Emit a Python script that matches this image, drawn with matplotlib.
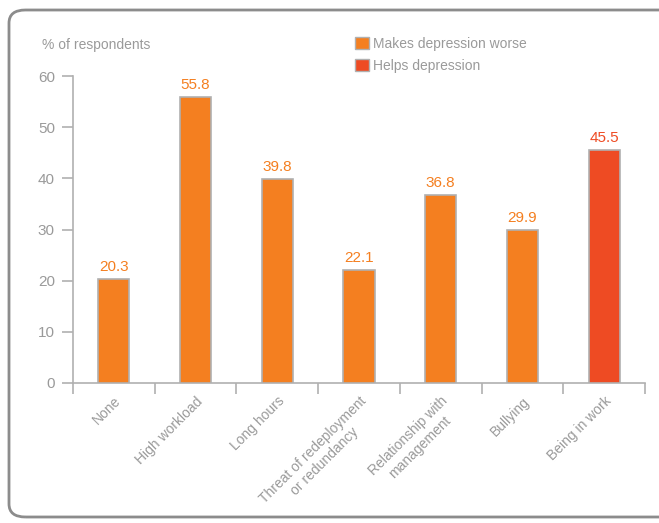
"""Work factors and depression - bar chart."""

import numpy as np
import matplotlib.pyplot as plt
from matplotlib.patches import FancyBboxPatch, Patch

plt.rcParams['font.family'] = ['Liberation Sans', 'DejaVu Sans']

categories = ['None', 'High workload', 'Long hours',
              'Threat of redeployment\nor redundancy',
              'Relationship with\nmanagement', 'Bullying', 'Being in work']
values = [20.3, 55.8, 39.8, 22.1, 36.8, 29.9, 45.5]
groups = ['worse', 'worse', 'worse', 'worse', 'worse', 'worse', 'helps']
yticks = [0, 10, 20, 30, 40, 50, 60]

ORANGE = '#f47f20'
RED = '#ee4b23'
GREY = '#9a9a9a'
colors = {'worse': ORANGE, 'helps': RED}

fig = plt.figure(figsize=(6.59, 5.23), dpi=100)

# rounded frame, cut off on the right like the original
frame = FancyBboxPatch((9 / 659, 6 / 523), 1.1, 1 - 16 / 523,
                       boxstyle='round,pad=0,rounding_size=0.025',
                       transform=fig.transFigure, fill=False,
                       edgecolor='#8c8c8c', linewidth=2.0, clip_on=False)
fig.patches.append(frame)

ax = fig.add_axes([73 / 659, 1 - 383 / 523, 572 / 659, 307 / 523])
x = np.arange(len(categories))
bar_colors = [colors[g] for g in groups]
ax.bar(x, values, width=0.38, color=bar_colors, edgecolor='#b0b0b0',
       linewidth=1.2, zorder=3)

for xi, v, c in zip(x, values, bar_colors):
    ax.text(xi, v + 1.0, f'{v:.1f}', ha='center', va='bottom',
            color=c, fontsize=11)

ax.set_xlim(-0.5, len(categories) - 0.5)
ax.set_ylim(0, 60)
ax.set_yticks(yticks)
ax.set_yticklabels([str(t) for t in yticks], color=GREY, fontsize=11)

ax.set_xticks(x)
ax.set_xticklabels(categories, rotation=45, ha='right', va='top',
                   rotation_mode='anchor', color=GREY, fontsize=10,
                   multialignment='center')
ax.set_xticks(np.arange(-0.5, len(categories)), minor=True)
ax.tick_params(axis='x', which='major', length=0, pad=8)
ax.tick_params(axis='x', which='minor', length=8, color='#b0b0b0', width=1.2)
ax.tick_params(axis='y', length=8, color='#b0b0b0', width=1.2, pad=5)

for s in ['top', 'right']:
    ax.spines[s].set_visible(False)
for s in ['left', 'bottom']:
    ax.spines[s].set_color('#b0b0b0')
    ax.spines[s].set_linewidth(1.2)

fig.text(42 / 659, 1 - 45 / 523, '% of respondents', color=GREY,
         fontsize=10, va='center')

handles = [Patch(facecolor=ORANGE, edgecolor='#b0b0b0'),
           Patch(facecolor=RED, edgecolor='#b0b0b0')]
fig.legend(handles, ['Makes depression worse', 'Helps depression'],
           loc='upper left', bbox_to_anchor=(355 / 659, 1 - 37 / 523),
           frameon=False, labelcolor=GREY,
           handlelength=1.0, handleheight=1.0, handletextpad=0.3,
           labelspacing=0.55, borderaxespad=0, borderpad=0,
           prop={'size': 10})

fig.savefig('out.png', dpi=100)
